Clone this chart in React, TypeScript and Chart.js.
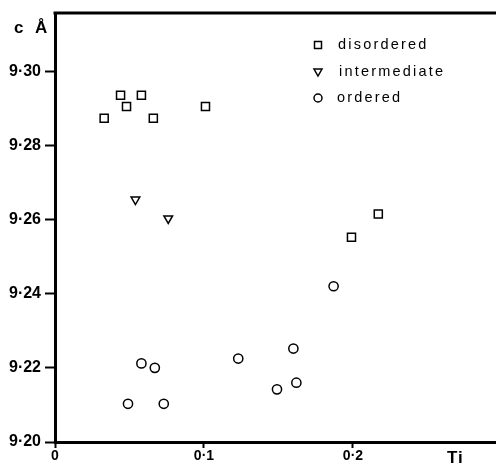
import React, { useEffect, useRef } from "react";
import { Chart, registerables } from "chart.js";

Chart.register(...registerables);

const disorderedTi = [0.033, 0.044, 0.048, 0.058, 0.066, 0.101, 0.217, 0.199];
const disorderedC = [9.2873, 9.2935, 9.2905, 9.2935, 9.2873, 9.2905, 9.2615, 9.2552];

const intermediateTi = [0.054, 0.076];
const intermediateC = [9.2654, 9.2603];

const orderedTi = [0.049, 0.058, 0.067, 0.073, 0.123, 0.187, 0.160, 0.162, 0.149];
const orderedC = [9.2103, 9.2212, 9.2200, 9.2103, 9.2225, 9.2420, 9.2252, 9.2160, 9.2142];

const xTicks = [0, 0.1, 0.2];
const yTicks = [9.2, 9.22, 9.24, 9.26, 9.28, 9.3];
const seriesLabels = ["disordered", "intermediate", "ordered"];

const FONT = "'Liberation Sans', Arial, sans-serif";

function pts(xs: number[], ys: number[]) {
  return xs.map((x, i) => ({ x, y: ys[i] }));
}

const decorPlugin = {
  id: "decor",
  afterDraw(chart: any) {
    const { ctx, chartArea } = chart;
    ctx.save();
    // top border
    ctx.strokeStyle = "#000";
    ctx.lineWidth = 3;
    ctx.beginPath();
    ctx.moveTo(chartArea.left - 1.5, chartArea.top);
    ctx.lineTo(chartArea.right, chartArea.top);
    ctx.stroke();

    // axis titles
    ctx.fillStyle = "#000";
    ctx.font = `bold 17px ${FONT}`;
    ctx.textBaseline = "alphabetic";
    ctx.textAlign = "left";
    ctx.fillText("c", 14, 33);
    ctx.fillText("Å", 35, 33);
    ctx.font = `bold 17px ${FONT}`;
    (ctx as any).letterSpacing = "1px";
    ctx.fillText("Ti", 447, 463);

    // legend
    const lx = 318;
    const rows = [45, 72, 98];
    const styles = ["rect", "triangle", "circle"];
    ctx.font = `14.5px ${FONT}`;
    (ctx as any).letterSpacing = "2.2px";
    ctx.textBaseline = "middle";
    rows.forEach((y, i) => {
      ctx.lineWidth = 1.5;
      ctx.strokeStyle = "#000";
      ctx.fillStyle = "#fff";
      ctx.beginPath();
      if (styles[i] === "rect") {
        ctx.rect(lx - 3.5, y - 3.5, 7, 7);
      } else if (styles[i] === "triangle") {
        ctx.moveTo(lx - 4, y - 3);
        ctx.lineTo(lx + 4, y - 3);
        ctx.lineTo(lx, y + 4);
        ctx.closePath();
      } else {
        ctx.arc(lx, y, 4, 0, Math.PI * 2);
      }
      ctx.fill();
      ctx.stroke();
      ctx.fillStyle = "#000";
      const tx = i === 2 ? 337 : i === 1 ? 339 : 338;
      ctx.fillText(seriesLabels[i], tx, y);
    });
    ctx.restore();
  },
};

export default function App() {
  const ref = useRef<HTMLCanvasElement>(null);
  useEffect(() => {
    const common = {
      showLine: false,
      borderColor: "#000",
      backgroundColor: "#fff",
      pointBorderWidth: 1.5,
      pointBackgroundColor: "#fff",
      pointBorderColor: "#000",
    };
    const chart = new Chart(ref.current!, {
      type: "scatter",
      data: {
        datasets: [
          { ...common, label: seriesLabels[0], data: pts(disorderedTi, disorderedC), pointStyle: "rect", pointRadius: 5.7 },
          { ...common, label: seriesLabels[1], data: pts(intermediateTi, intermediateC), pointStyle: "triangle", pointRotation: 180, pointRadius: 5 },
          { ...common, label: seriesLabels[2], data: pts(orderedTi, orderedC), pointStyle: "circle", pointRadius: 4.6 },
        ],
      },
      options: {
        animation: false,
        responsive: false,
        devicePixelRatio: 1,
        layout: { autoPadding: false, padding: { top: 13, right: 0, left: 0, bottom: 0 } },
        plugins: { legend: { display: false }, tooltip: { enabled: false } },
        scales: {
          x: {
            type: "linear",
            min: 0,
            max: 0.296,
            afterBuildTicks: (s: any) => {
              s.ticks = xTicks.map((v) => ({ value: v }));
            },
            afterFit: (s: any) => {
              s.height = 27;
              s.paddingLeft = 0;
              s.paddingRight = 0;
            },
            border: { display: true, color: "#000", width: 3 },
            grid: { drawOnChartArea: false, drawTicks: true, tickLength: 6, tickWidth: 2, color: "#000" },
            ticks: {
              padding: 0,
              color: "#000",
              font: { family: FONT, size: 14, weight: "bold" },
              callback: (v: any) => (v === 0 ? "0" : Number(v).toFixed(1).replace(".", "·")),
            },
          },
          y: {
            type: "linear",
            min: 9.2,
            max: 9.3157,
            afterBuildTicks: (s: any) => {
              s.ticks = yTicks.map((v) => ({ value: v }));
            },
            afterFit: (s: any) => {
              s.width = 55;
              s.paddingTop = 0;
              s.paddingBottom = 0;
            },
            border: { display: true, color: "#000", width: 3 },
            grid: { drawOnChartArea: false, drawTicks: true, tickLength: 10, tickWidth: 2, color: "#000" },
            ticks: {
              padding: 4,
              color: "#000",
              font: { family: FONT, size: 16, weight: "bold" },
              callback: (v: any) => Number(v).toFixed(2).replace(".", "·"),
            },
          },
        },
      },
      plugins: [decorPlugin],
    } as any);
    return () => chart.destroy();
  }, []);
  return (
    <div style={{ position: "fixed", left: 0, top: 0, width: 496, height: 469, background: "#fff" }}>
      <canvas ref={ref} width={496} height={469} style={{ display: "block" }} />
    </div>
  );
}
